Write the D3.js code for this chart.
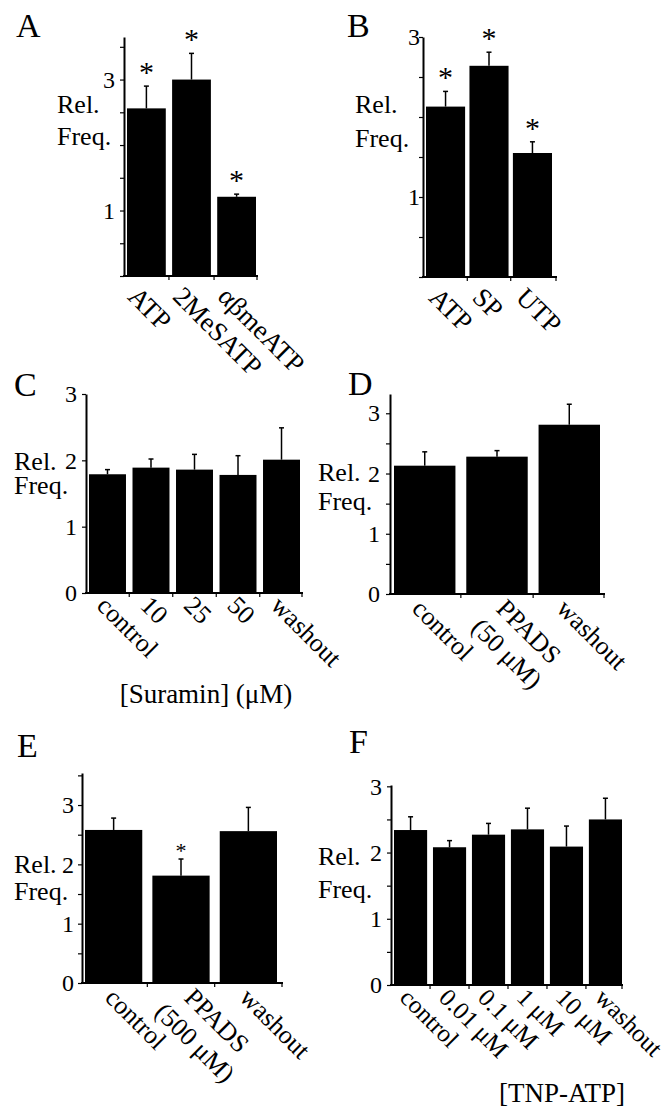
<!DOCTYPE html>
<html>
<head>
<meta charset="utf-8">
<script src="https://cdn.jsdelivr.net/npm/d3@7"></script>
<style>
  html, body { margin: 0; padding: 0; background: #fff; }
  svg { display: block; }
</style>
</head>
<body>
<svg id="fig" width="671" height="1111"></svg>
<script>
// ---------------- DATA ----------------
const catsA = ["ATP", "2MeSATP", "αβmeATP"];
const valsA = [2.56, 3.00, 1.21];
const errsA = [0.34, 0.40, 0.04];
const sigA  = [true, true, true];
const ticksA = [1, 3];

const catsB = ["ATP", "SP", "UTP"];
const valsB = [2.13, 2.64, 1.55];
const errsB = [0.19, 0.17, 0.14];
const sigB  = [true, true, true];
const ticksB = [1, 3];

const catsC = ["control", "10", "25", "50", "washout"];
const valsC = [1.79, 1.89, 1.86, 1.78, 2.01];
const errsC = [0.07, 0.13, 0.23, 0.29, 0.48];
const sigC  = [false, false, false, false, false];
const ticksC = [0, 1, 2, 3];

const catsD = ["control", "PPADS\n(50 μM)", "washout"];
const valsD = [2.13, 2.28, 2.81];
const errsD = [0.23, 0.10, 0.34];
const sigD  = [false, false, false];
const ticksD = [0, 1, 2, 3];

const catsE = ["control", "PPADS\n(500 μM)", "washout"];
const valsE = [2.58, 1.81, 2.56];
const errsE = [0.20, 0.28, 0.40];
const sigE  = [false, true, false];
const ticksE = [0, 1, 2, 3];

const catsF = ["control", "0.01 μM", "0.1 μM", "1 μM", "10 μM", "washout"];
const valsF = [2.34, 2.08, 2.27, 2.35, 2.09, 2.50];
const errsF = [0.20, 0.10, 0.17, 0.32, 0.31, 0.32];
const sigF  = [false, false, false, false, false, false];
const ticksF = [0, 1, 2, 3];

const yLabel = ["Rel.", "Freq."];
const titleC = "[Suramin] (μM)";
const titleF = "[TNP-ATP]";

// ---------------- LAYOUT ----------------
const FONT = "'Liberation Serif','Times New Roman',Times,serif";
const panels = [
  {letter:"A", cats:catsA, vals:valsA, errs:errsA, sig:sigA, ticks:ticksA, minor:0.5,
   axisX:124, y0:276, yTop:37, yMax:3.65, xEnd:258, barL:127, barR:256, pad:0.14,
   lpos:[16,37], rel:[57,113,145], tickPad:5, labDx:-20, labDy:22, catFont:27, star:30, starOff:4},
  {letter:"B", cats:catsB, vals:valsB, errs:errsB, sig:sigB, ticks:ticksB, minor:0.5,
   axisX:423, y0:277, yTop:37, yMax:3.0, xEnd:557, barL:426, barR:552, pad:0.10,
   lpos:[347,37], rel:[355,113,147], tickPad:-1, labDx:-18, labDy:22, catFont:27, star:30, starOff:4},
  {letter:"C", cats:catsC, vals:valsC, errs:errsC, sig:sigC, ticks:ticksC, minor:1,
   axisX:86, y0:593, yTop:394, yMax:3.0, xEnd:303, barL:89, barR:300, pad:0.15,
   lpos:[14,396], rel:[14,470,494], tickPad:5, labDx:-12, labDy:14, catFont:26, star:28, starOff:4,
   title:titleC, titlePos:[206,703]},
  {letter:"D", cats:catsD, vals:valsD, errs:errsD, sig:sigD, ticks:ticksD, minor:0.5,
   axisX:390, y0:594, yTop:394, yMax:3.32, xEnd:605, barL:394, barR:600, pad:0.15,
   lpos:[348,395], rel:[318,481,510], tickPad:6, labDx:-14, labDy:16, catFont:26, star:28, starOff:4},
  {letter:"E", cats:catsE, vals:valsE, errs:errsE, sig:sigE, ticks:ticksE, minor:0.5,
   axisX:82, y0:983, yTop:773, yMax:3.54, xEnd:283, barL:85, barR:277, pad:0.15,
   lpos:[17,757], rel:[14,873,900], tickPad:4, labDx:-10, labDy:16, catFont:26, star:22, starOff:1},
  {letter:"F", cats:catsF, vals:valsF, errs:errsF, sig:sigF, ticks:ticksF, minor:0.5,
   axisX:391, y0:985, yTop:785, yMax:3.02, xEnd:623, barL:394, barR:622, pad:0.15,
   lpos:[349,753], rel:[318,865,898], tickPad:5, labDx:-12, labDy:14, catFont:25, star:28, starOff:4,
   title:titleF, titlePos:[562,1102]}
];

const svg = d3.select("#fig");
svg.append("rect").attr("width", 671).attr("height", 1111).attr("fill", "#fff");

panels.forEach(p => {
  const g = svg.append("g").attr("font-family", FONT).attr("fill", "#000");
  const y = d3.scaleLinear().domain([0, p.yMax]).range([p.y0, p.yTop]);
  const x = d3.scaleBand().domain(p.cats).range([p.barL, p.barR])
              .paddingInner(p.pad).paddingOuter(0);
  const data = p.cats.map((c, i) => ({c, v: p.vals[i], e: p.errs[i], s: p.sig[i]}));

  // panel letter
  g.append("text").attr("x", p.lpos[0]).attr("y", p.lpos[1])
    .attr("font-size", 34).text(p.letter);

  // Rel. / Freq.
  g.append("text").attr("x", p.rel[0]).attr("y", p.rel[1]).attr("font-size", 26).text(yLabel[0]);
  g.append("text").attr("x", p.rel[0]).attr("y", p.rel[2]).attr("font-size", 26).text(yLabel[1]);

  // y axis
  const minorVals = d3.range(0, p.yMax + 1e-9, p.minor);
  const yAxis = d3.axisLeft(y).tickValues(minorVals)
    .tickSizeInner(4).tickSizeOuter(0).tickPadding(p.tickPad)
    .tickFormat(d => p.ticks.some(t => Math.abs(t - d) < 1e-6) ? d3.format("d")(d) : "");
  const ya = g.append("g").attr("transform", `translate(${p.axisX},0)`).call(yAxis);
  ya.select(".domain").attr("stroke", "#000").attr("stroke-width", 2);
  ya.selectAll(".tick line").attr("stroke", "#000").attr("stroke-width", 1.2);
  ya.selectAll(".tick text").attr("font-family", FONT).attr("font-size", 24).attr("fill", "#000");

  // bars
  g.selectAll("rect.bar").data(data).join("rect").attr("class", "bar")
    .attr("x", d => x(d.c)).attr("width", x.bandwidth())
    .attr("y", d => y(d.v)).attr("height", d => y(0) - y(d.v))
    .attr("fill", "#000");

  // error bars
  const cx = d => x(d.c) + x.bandwidth() / 2;
  g.selectAll("line.err").data(data).join("line").attr("class", "err")
    .attr("x1", cx).attr("x2", cx).attr("y1", d => y(d.v)).attr("y2", d => y(d.v + d.e))
    .attr("stroke", "#000").attr("stroke-width", 1.5);
  g.selectAll("line.cap").data(data).join("line").attr("class", "cap")
    .attr("x1", d => cx(d) - 2.5).attr("x2", d => cx(d) + 2.5)
    .attr("y1", d => y(d.v + d.e)).attr("y2", d => y(d.v + d.e))
    .attr("stroke", "#000").attr("stroke-width", 1.5);

  // asterisks
  g.selectAll("text.star").data(data.filter(d => d.s)).join("text").attr("class", "star")
    .attr("x", cx).attr("y", d => y(d.v + d.e) - p.starOff)
    .attr("text-anchor", "middle").attr("font-size", p.star).text("*");

  // x axis line
  g.append("line").attr("x1", p.axisX - 1).attr("x2", p.xEnd)
    .attr("y1", y(0)).attr("y2", y(0)).attr("stroke", "#000").attr("stroke-width", 2);
  // small ticks between bars
  const gap = x.step() * x.paddingInner();
  const bounds = p.cats.slice(1).map(c => x(c) - gap / 2).concat([p.xEnd - 1]);
  g.selectAll("line.xt").data(bounds).join("line").attr("class", "xt")
    .attr("x1", d => d).attr("x2", d => d).attr("y1", y(0)).attr("y2", y(0) + 4)
    .attr("stroke", "#000").attr("stroke-width", 1.2);

  // category labels (rotated 45°)
  data.forEach(d => {
    const lines = d.c.split("\n");
    const shift = (lines.length - 1) * 12;
    const t = g.append("text")
      .attr("transform", `translate(${cx(d) + p.labDx + shift},${y(0) + p.labDy}) rotate(45)`)
      .attr("font-size", p.catFont);
    const spans = lines.map((ln, i) => t.append("tspan").attr("x", 0)
      .attr("dy", i === 0 ? 0 : "1.2em").text(ln));
    if (lines.length > 1) {
      const w0 = spans[0].node().getComputedTextLength();
      spans.forEach((s, i) => {
        if (i > 0) s.attr("x", (w0 - s.node().getComputedTextLength()) / 2);
      });
    }
  });

  // axis title
  if (p.title) {
    g.append("text").attr("x", p.titlePos[0]).attr("y", p.titlePos[1])
      .attr("text-anchor", "middle").attr("font-size", 27).text(p.title);
  }
});
</script>
</body>
</html>
